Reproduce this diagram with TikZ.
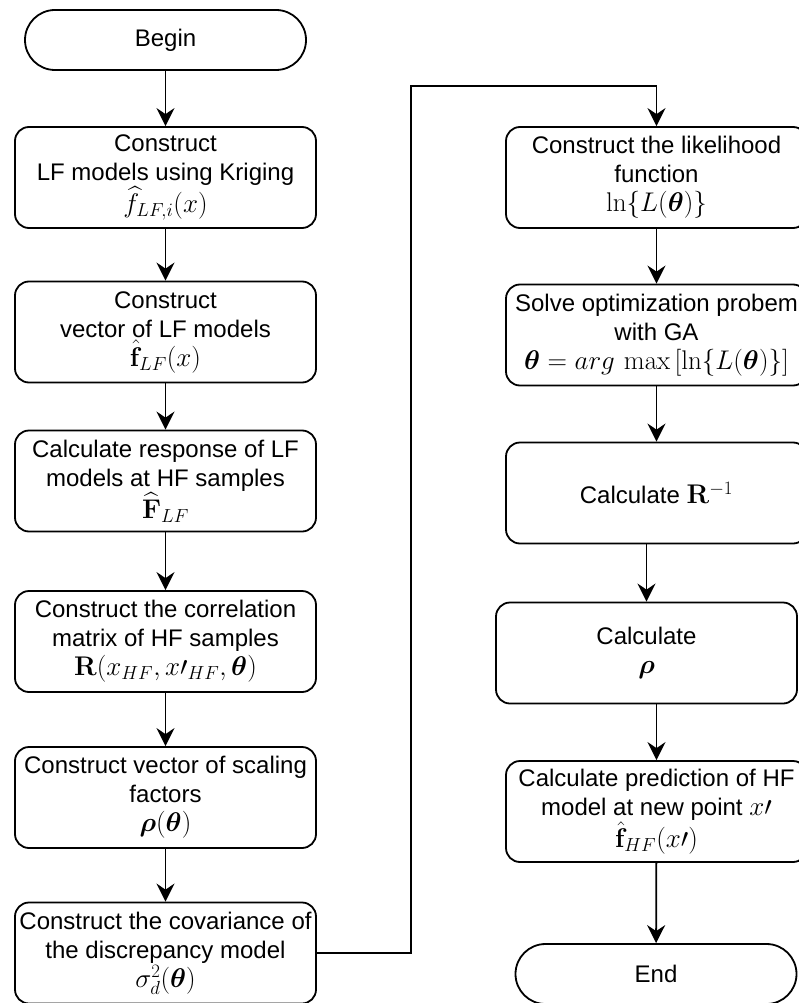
\RequirePackage{fix-cm}
\documentclass[tikz,border=0pt]{standalone}
\usepackage{amsmath}
\usepackage{bm}
\usepackage[no-math]{fontspec}
\setmainfont{Liberation Sans}
\usetikzlibrary{arrows.meta}
\newcommand{\thb}{\bm{\theta}}
\newcommand{\rhob}{\bm{\rho}}
\newcommand{\mth}[1]{{\fontsize{27}{29}\selectfont$#1$}}

\begin{document}
\begin{tikzpicture}[x=1pt,y=-1pt,
    font=\fontsize{24}{29}\selectfont,
    every node/.style={align=center,inner sep=0pt},
    stepbox/.style={draw,line width=1.8pt,rounded corners=14pt,minimum width=301pt,minimum height=101pt},
    termbox/.style={draw,line width=1.8pt,rounded corners=30pt,minimum width=281pt,minimum height=60pt},
    arr/.style={line width=1.8pt,-{Stealth[length=18pt,width=18pt,inset=6pt]}}]
    \useasboundingbox (0,0) rectangle (798,1003);

    \node[termbox] (0) at (165.5,40) {Begin};
    \node[stepbox] (1) at (165.5,177.5) {Construct\\LF models using Kriging\\\mth{\widehat{f}_{LF,i}(x)}};
    \node[stepbox] (2) at (165.5,332) {Construct\\vector of LF models\\\mth{\hat{\mathbf{f}}_{LF}(x)}};
    \node[stepbox] (3) at (165.5,481) {Calculate response of LF\\models at HF samples\\\mth{\widehat{\mathbf{F}}_{LF}}};
    \node[stepbox] (4) at (165.5,641.5) {Construct the correlation\\matrix of HF samples\\\mth{\mathbf{R}(x_{HF},x\prime_{HF},\thb)}};
    \node[stepbox] (5) at (165.5,797.5) {Construct vector of scaling\\factors\\\mth{\rhob(\thb)}};
    \node[stepbox] (6) at (165.5,953) {Construct the covariance of\\the discrepancy model\\\mth{\sigma_d^2(\thb)}};

    \node[stepbox] (7) at (656.5,177.5) {Construct the likelihood\\function\\\mth{\ln\{L(\thb)\}}};
    \node[stepbox] (8) at (656.5,335) {Solve optimization probem\\with GA\\\mth{\thb=arg\,\max\,[\ln\{L(\thb)\}]}};
    \node[stepbox] (9) at (656.5,493) {Calculate \mth{\mathbf{R}^{-1}}};
    \node[stepbox] (10) at (646.5,653) {Calculate\\\mth{\rhob}};
    \node[stepbox] (11) at (656.5,811.5) {Calculate prediction of HF\\model at new point \mth{x\prime}\\\mth{\hat{\mathbf{f}}_{HF}(x\prime)}};
    \node[termbox] (12) at (656,974) {End};

    \coordinate (c) at (411,86);

    \draw[arr] (0) -- (1);
    \draw[arr] (1) -- (2);
    \draw[arr] (2) -- (3);
    \draw[arr] (3) -- (4);
    \draw[arr] (4) -- (5);
    \draw[arr] (5) -- (6);
    \draw[arr] (6.east) -- (6.east -| c) -- (c) -- (c -| 7.north) -- (7.north);
    \draw[arr] (7) -- (8);
    \draw[arr] (8) -- (9);
    \draw[arr] (9.south -| 10.north) -- (10.north);
    \draw[arr] (10.south -| 11.north) -- (11.north);
    \draw[arr] (11) -- (12);
  \end{tikzpicture}
\end{document}
